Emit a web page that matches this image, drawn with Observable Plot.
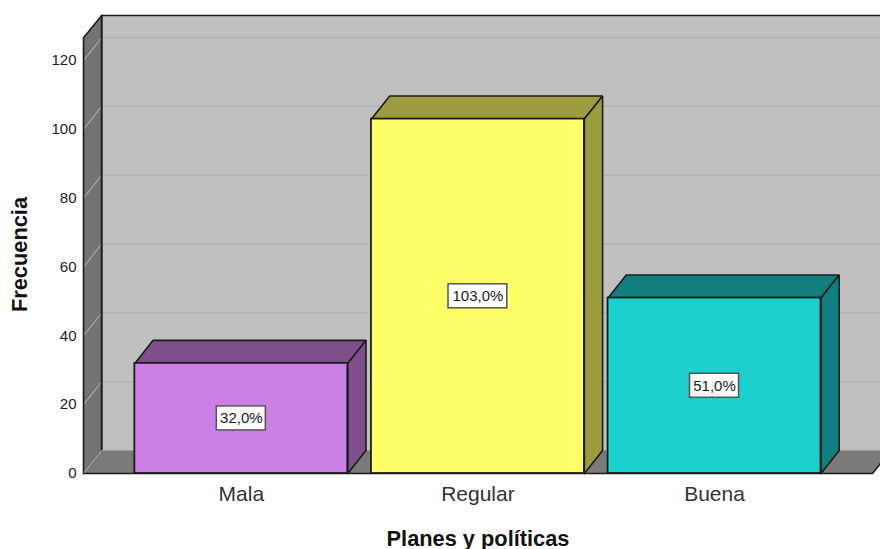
<!DOCTYPE html>
<html lang="es">
<head>
<meta charset="utf-8">
<title>Planes y políticas</title>
<script src="https://cdn.jsdelivr.net/npm/d3@7"></script>
<script src="https://cdn.jsdelivr.net/npm/@observablehq/plot@0.6"></script>
<style>
  html, body { margin: 0; background: #fff; }
  svg { display: block; }
</style>
</head>
<body>
<div id="chart"></div>
<script>
// Frequencies per category
const categories = ["Mala", "Regular", "Buena"];
const frequencies = [32, 103, 51];
const frontColors = ["#cc7fe5", "#ffff66", "#1ccece"];
const shadeColors = ["#7f4f8c", "#9c9c3c", "#117f7f"];
const gridTicks = [0, 20, 40, 60, 80, 100, 120];

// Oblique projection: depth expressed in each axis' own units
const depthX = 0.077;
const depthY = 6.7;
const halfBar = 0.45;
const xMin = -0.667;
const xMax = 2.7016;
const yTop = 126.6;
const yBack = 133.1;
const floorEnd = 2.668;
const wallColor = "#c0c0c0", sideColor = "#737373", floorColor = "#7a7a7a";

// A closed polygon as rows for Plot.line, grouped by face id
let faceId = 0;
const poly = (fill, pts) => {
  const id = faceId++;
  return pts.concat([pts[0]]).map(([x, y]) => ({x, y, id, fill}));
};

const room = [
  ...poly(wallColor, [[xMin + depthX, depthY], [xMin + depthX, yBack], [xMax + 1, yBack], [xMax + 1, depthY]]),
  ...poly(sideColor, [[xMin, 0], [xMin, yTop], [xMin + depthX, yBack], [xMin + depthX, depthY]]),
  ...poly(floorColor, [[xMin, 0], [xMin + depthX, depthY], [floorEnd + depthX, depthY], [floorEnd, 0]])
];

const barFaces = frequencies.flatMap((v, i) => [
  ...poly(shadeColors[i], [[i - halfBar, v], [i - halfBar + depthX, v + depthY], [i + halfBar + depthX, v + depthY], [i + halfBar, v]]),
  ...poly(shadeColors[i], [[i + halfBar, 0], [i + halfBar + depthX, depthY], [i + halfBar + depthX, v + depthY], [i + halfBar, v]])
]);

const rows = categories.map((name, i) => ({
  i,
  name,
  value: frequencies[i],
  fill: frontColors[i],
  label: frequencies[i].toFixed(1).replace(".", ",") + "%"
}));

const gridSide = gridTicks.slice(1).flatMap(t => [
  {x: xMin, y: t, t},
  {x: xMin + depthX, y: t + depthY, t}
]);
const gridBack = gridTicks.slice(1).flatMap(t => [
  {x: xMin + depthX, y: t + depthY, t},
  {x: xMax + 1, y: t + depthY, t}
]);

const ink = "#1c1c1c";

const chart = Plot.plot({
  width: 880,
  height: 549,
  marginLeft: 83,
  marginRight: 0,
  marginTop: 15,
  marginBottom: 76,
  style: {fontFamily: "'Liberation Sans', Arial, sans-serif", fontSize: "14px", background: "#fff", color: "#222"},
  x: {domain: [xMin, xMax], axis: null},
  y: {domain: [0, yBack], axis: null},
  color: {type: "identity"},
  marks: [
    // Room: back wall, left wall, floor
    Plot.line(room, {x: "x", y: "y", z: "id", fill: "fill", stroke: null}),
    Plot.line(gridBack, {x: "x", y: "y", z: "t", stroke: "#b3b3b3", strokeWidth: 1.5}),
    Plot.line(gridSide, {x: "x", y: "y", z: "t", stroke: "#a6a6a6", strokeWidth: 1.2}),

    // Room edges
    Plot.line([[xMin, 0], [xMin, yTop], [xMin + depthX, yBack], [xMax + 1, yBack]], {x: "0", y: "1", stroke: ink, strokeWidth: 1.6}),
    Plot.line([[xMin + depthX, yBack], [xMin + depthX, depthY]], {x: "0", y: "1", stroke: ink, strokeWidth: 2}),
    Plot.line([[xMin, 0], [xMin + depthX, depthY]], {x: "0", y: "1", stroke: "#a6a6a6", strokeWidth: 1}),
    Plot.line([[xMin + depthX, depthY], [xMax + 1, depthY]], {x: "0", y: "1", stroke: "#999", strokeWidth: 1}),
    Plot.line([[xMin, 0], [floorEnd, 0], [floorEnd + depthX, depthY]], {x: "0", y: "1", stroke: ink, strokeWidth: 1.6}),

    // Bars: shaded top and side, then the front face
    Plot.line(barFaces, {x: "x", y: "y", z: "id", fill: "fill", stroke: ink, strokeWidth: 1.6, strokeLinejoin: "miter"}),
    Plot.rect(rows, {
      x1: d => d.i - halfBar,
      x2: d => d.i + halfBar,
      y1: 0,
      y2: "value",
      fill: "fill",
      stroke: ink,
      strokeWidth: 1.8
    }),

    // Value tags at the middle of each bar, sized to the length of their text
    ...rows.map(d => Plot.rect([d], {
      x1: "i",
      x2: "i",
      y1: r => r.value / 2,
      y2: r => r.value / 2,
      insetLeft: -d.label.length * 4.9,
      insetRight: -d.label.length * 4.9,
      insetTop: -12,
      insetBottom: -12,
      fill: "#fff",
      stroke: "#555",
      strokeWidth: 1.5
    })),
    Plot.text(rows, {x: "i", y: d => d.value / 2, text: "label", fontSize: 15, fill: "#1a1a1a"}),

    // Axes and their titles
    Plot.axisY({ticks: gridTicks, tickSize: 0, tickPadding: 7, label: null, fontSize: 15, fill: "#222"}),
    Plot.axisX({ticks: [0, 1, 2], tickFormat: i => categories[i], tickSize: 0, tickPadding: 13, label: null, fontSize: 21, fill: "#333"}),
    Plot.text(["Frecuencia"], {frameAnchor: "left", textAnchor: "middle", rotate: -90, dx: -63, dy: 10, fontWeight: "bold", fontSize: 21.8, fill: "#111"}),
    Plot.text(["Planes y políticas"], {frameAnchor: "bottom", dx: -4, dy: 72, fontWeight: "bold", fontSize: 21.8, fill: "#111"})
  ]
});

document.getElementById("chart").append(chart);
</script>
</body>
</html>
